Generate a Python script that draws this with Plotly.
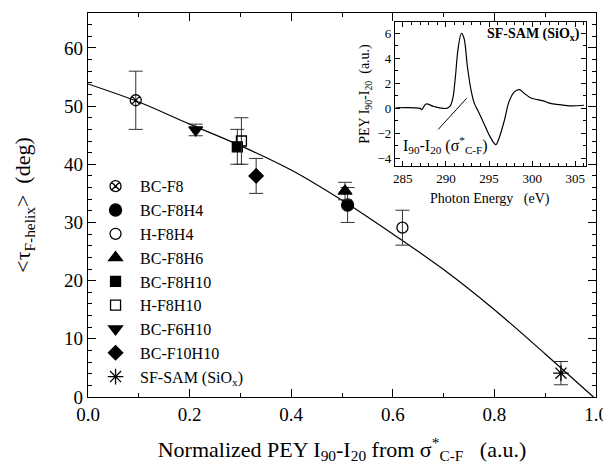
import plotly.graph_objects as go

# ---- main data ----
names = ["BC-F8", "BC-F8H4", "H-F8H4", "BC-F8H6", "BC-F8H10", "H-F8H10",
         "BC-F6H10", "BC-F10H10", "SF-SAM (SiO<sub>x</sub>)"]
pey = [0.094, 0.511, 0.619, 0.506, 0.294, 0.302, 0.212, 0.331, 0.931]
tau = [51.0, 33.0, 29.1, 35.4, 43.0, 44.0, 45.9, 38.0, 4.1]
tau_err = [5.0, 3.0, 3.0, 1.5, 3.0, 4.0, 1.0, 3.0, 2.0]
symbols = ["circle-x-open", "circle", "circle-open", "triangle-up", "square",
           "square-open", "triangle-down", "diamond", "asterisk-open"]
sizes = [11, 12, 11, 12, 10, 10, 12, 11, 13]

# fit curve
fit_x = [0.0, 0.1, 0.2, 0.3, 0.4, 0.5, 0.6, 0.7, 0.8, 0.9, 0.995]
fit_y = [53.8, 50.7, 46.9, 43.2, 39.0, 33.8, 28.0, 21.9, 15.0, 7.4, 0.0]

# ---- inset spectrum ----
energy = [284.2, 287.0, 287.2, 287.7, 288.6, 290.1, 290.5, 290.8, 291.1, 291.4,
          291.8, 292.1, 292.5, 292.9, 293.3, 293.8, 294.4, 295.0, 295.6, 295.8,
          296.2, 296.8, 297.3, 297.9, 298.5, 299.0, 299.8, 300.6, 301.3, 302.1,
          303.2, 304.4, 306.0]
pey_diff = [0.05, 0.0, -0.1, 0.35, 0.15, 0.0, 0.2, 0.8, 2.5, 4.7,
            6.0, 5.6, 3.3, 1.5, 0.4, -0.3, -1.2, -2.1, -2.8, -2.9,
            -2.3, -0.9, 0.5, 1.3, 1.5, 1.25, 0.85, 0.7, 0.6, 0.4,
            0.3, 0.2, 0.25]

FONT = "Liberation Serif, Times New Roman, serif"
fig = go.Figure()

fig.add_trace(go.Scatter(x=fit_x, y=fit_y, mode="lines", line=dict(color="black", width=1.2, shape="spline"),
                         showlegend=False, hoverinfo="skip"))

for n, xv, yv, ev, s, sz in zip(names, pey, tau, tau_err, symbols, sizes):
    fig.add_trace(go.Scatter(
        x=[xv], y=[yv], mode="markers", name=n,
        marker=dict(symbol=s, size=sz, color="black", line=dict(color="black", width=1.3)),
        error_y=dict(type="data", array=[ev], color="#333333", thickness=1, width=7),
    ))

fig.add_trace(go.Scatter(x=energy, y=pey_diff, mode="lines", line=dict(color="black", width=1.2, shape="spline"),
                         xaxis="x2", yaxis="y2", showlegend=False, hoverinfo="skip"))

axis_common = dict(showline=True, mirror="ticks", linecolor="black", linewidth=1.2,
                   ticks="inside", tickcolor="black", showgrid=False, zeroline=False, automargin=False)

# page body has an 8px margin, so the figure is sized/offset to compensate
fig.update_layout(
    width=603, height=465,
    margin=dict(l=80, r=15, t=5, b=76),
    paper_bgcolor="white", plot_bgcolor="white",
    font=dict(family=FONT, color="black"),
    xaxis=dict(range=[0, 1.0], dtick=0.2, tickformat=".1f", ticklen=8,
               minor=dict(dtick=0.1, ticklen=4, ticks="inside", tickcolor="black"),
               tickfont=dict(size=19, family=FONT),
               title=dict(text="Normalized PEY I<sub>90</sub>-I<sub>20</sub> from σ<sup>*</sup><sub>C-F</sub>   (a.u.)",
                          font=dict(size=22, family=FONT), standoff=17),
               **axis_common),
    yaxis=dict(range=[0, 66], dtick=10, ticklen=8,
               minor=dict(dtick=2, ticklen=4, ticks="inside", tickcolor="black"),
               tickfont=dict(size=19, family=FONT),
               title=dict(text="&lt;τ<sub>F-helix</sub>&gt;  (deg)", font=dict(size=22, family=FONT), standoff=27),
               **axis_common),
    xaxis2=dict(domain=[0.6043, 0.9797], anchor="y2", range=[284.1, 306.2], dtick=5, ticklen=5,
                minor=dict(dtick=1, ticklen=2.5, ticks="inside", tickcolor="black"),
                tickfont=dict(size=13, family=FONT),
                **axis_common),
    yaxis2=dict(domain=[0.6016, 0.9766], anchor="x2", range=[-4.6, 6.9], dtick=2, ticklen=5,
                minor=dict(dtick=1, ticklen=2.5, ticks="inside", tickcolor="black"),
                tickfont=dict(size=13, family=FONT),
                title=dict(text="PEY I<sub>90</sub>-I<sub>20</sub>  (a.u.)", font=dict(size=14, family=FONT), standoff=4),
                **axis_common),
    legend=dict(x=0.006, y=0.593, xanchor="left", yanchor="top", bgcolor="rgba(0,0,0,0)",
                font=dict(size=16, family=FONT), itemwidth=39),
    showlegend=True,
)

fig.add_annotation(x=0.5, y=-0.23, xref="x2 domain", yref="y2 domain", text="Photon Energy   (eV)",
                   showarrow=False, yanchor="middle", font=dict(size=14, family=FONT))
fig.add_annotation(x=300.2, y=5.9, xref="x2", yref="y2", text="<b>SF-SAM (SiO<sub>x</sub>)</b>",
                   showarrow=False, font=dict(size=14, family=FONT))
fig.add_annotation(x=292.4, y=0.8, ax=288.95, ay=-1.8, xref="x2", yref="y2", axref="x2", ayref="y2",
                   text="", showarrow=True, arrowhead=0, arrowwidth=1, arrowcolor="black")
fig.add_annotation(x=289.9, y=-2.9, xref="x2", yref="y2",
                   text="I<sub>90</sub>-I<sub>20</sub> (σ<sup>*</sup><sub>C-F</sub>)",
                   showarrow=False, font=dict(size=16, family=FONT))

fig.write_html("out.html")
